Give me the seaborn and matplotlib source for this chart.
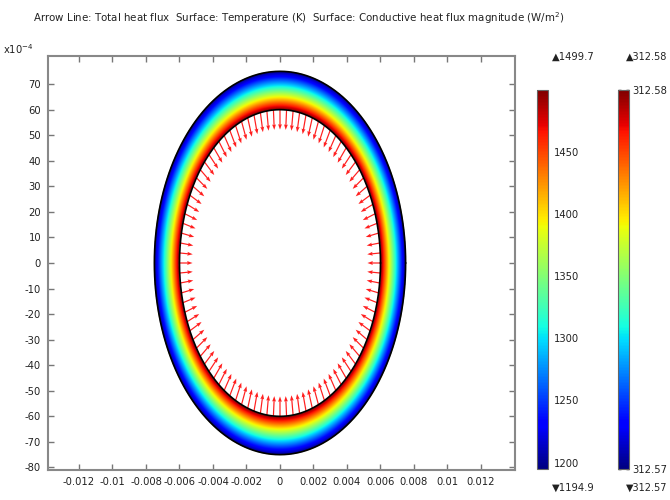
import numpy as np
import pandas as pd
import seaborn as sns
import matplotlib
matplotlib.use('Agg')
import matplotlib.pyplot as plt
from matplotlib import cm, colors

sns.set_style('white')
plt.rcParams['font.family'] = ['DejaVu Sans']

# geometry of the ring (m)
r_inner = 0.006
r_outer = 0.0075

# radial temperature profile (K)
r_samples = [0.006, 0.0065, 0.007, 0.0075]
T_samples = [1499.7, 1390.3, 1289.1, 1194.9]
T_min, T_max = 1194.9, 1499.7
T_ticks = [1200, 1250, 1300, 1350, 1400, 1450]

# conductive heat flux colour range (W/m^2)
q_min, q_max = 312.57, 312.58

# arrows on the inner wall
n_arrows = 96
arrow_len = 0.00078

x_ticks = [-0.012, -0.01, -0.008, -0.006, -0.004, -0.002, 0, 0.002, 0.004, 0.006, 0.008, 0.01, 0.012]
y_ticks = [-80, -70, -60, -50, -40, -30, -20, -10, 0, 10, 20, 30, 40, 50, 60, 70]

title = ('Arrow Line: Total heat flux  Surface: Temperature (K)  '
         'Surface: Conductive heat flux magnitude (W/m$^2$)')

fs = 7.2
txt = '#222222'

fig = plt.figure(figsize=(6.7, 5), dpi=100)
ax = fig.add_axes([48/670, 30/500, 467/670, 414/500])

# temperature surface on a fine grid, masked outside the ring
gx = np.linspace(-r_outer, r_outer, 900)
GX, GY = np.meshgrid(gx, gx)
R = np.hypot(GX, GY)
field = np.interp(R, r_samples, T_samples)
field = np.ma.masked_where((R < r_inner) | (R > r_outer), field)
norm_T = colors.Normalize(T_min, T_max)
ax.imshow(field, cmap='jet', norm=norm_T, origin='lower',
          extent=[-r_outer, r_outer, -r_outer, r_outer], aspect='auto',
          interpolation='bilinear')

# boundaries
theta = np.linspace(0, 2*np.pi, 361)
for r in (r_inner, r_outer):
    ax.plot(r*np.cos(theta), r*np.sin(theta), color='black', lw=1.2)

# heat flux arrows
arr = pd.DataFrame({'ang': np.linspace(0, 2*np.pi, n_arrows, endpoint=False)})
arr['x'] = r_inner*np.cos(arr['ang'])
arr['y'] = r_inner*np.sin(arr['ang'])
arr['u'] = -arrow_len*np.cos(arr['ang'])
arr['v'] = -arrow_len*np.sin(arr['ang'])
ax.quiver(arr['x'], arr['y'], arr['u'], arr['v'], color='#ff2020',
          angles='xy', scale_units='xy', scale=1,
          width=0.0026, headwidth=3.2, headlength=4.5, headaxislength=4)

ax.set_xlim(-0.01385, 0.01403)
ax.set_ylim(-0.0081, 0.0081)
ax.set_xticks(x_ticks)
ax.set_xticklabels(['%g' % v for v in x_ticks])
ax.set_yticks([v*1e-4 for v in y_ticks])
ax.set_yticklabels([str(v) for v in y_ticks])
ax.tick_params(direction='in', length=4, width=1, color='#777777',
               labelsize=fs, labelcolor=txt, top=True, right=True,
               bottom=True, left=True, pad=5)
for s in ax.spines.values():
    s.set_color('#888888')
    s.set_linewidth(1.5)
    s.set_visible(True)
ax.text(-0.03, 1.0, 'x10$^{-4}$', transform=ax.transAxes, ha='right',
        va='bottom', fontsize=fs, color=txt)

fig.text(299/670, 1 - 18/500, title, ha='center', va='center', fontsize=7.4, color=txt)

# colorbars
def add_bar(x0, vmin, vmax, ticks, labels, pad):
    cax = fig.add_axes([x0/670, 31/500, 11/670, 379/500])
    sm = cm.ScalarMappable(norm=colors.Normalize(vmin, vmax), cmap='jet')
    cb = fig.colorbar(sm, cax=cax, ticks=ticks)
    cb.ax.set_yticklabels(labels)
    cb.outline.set_edgecolor('#666666')
    cb.outline.set_linewidth(0.8)
    cax.tick_params(direction='in', length=2, width=1, color='black',
                    labelsize=fs, labelcolor=txt, left=True, right=True, pad=pad)
    return cax

add_bar(537, T_min, T_max, T_ticks, [str(t) for t in T_ticks], 4)
add_bar(618, q_min, q_max, [q_min, q_max], ['%.2f' % q_min, '%.2f' % q_max], 2)

fig.text(552/670, 1 - 57/500, '\u25b2%.1f' % T_max, ha='left', va='center', fontsize=fs, color=txt)
fig.text(552/670, 1 - 488/500, '\u25bc%.1f' % T_min, ha='left', va='center', fontsize=fs, color=txt)
fig.text(626/670, 1 - 57/500, '\u25b2%.2f' % q_max, ha='left', va='center', fontsize=7, color=txt)
fig.text(626/670, 1 - 488/500, '\u25bc%.2f' % q_min, ha='left', va='center', fontsize=7, color=txt)

fig.savefig('out.png', dpi=100)
